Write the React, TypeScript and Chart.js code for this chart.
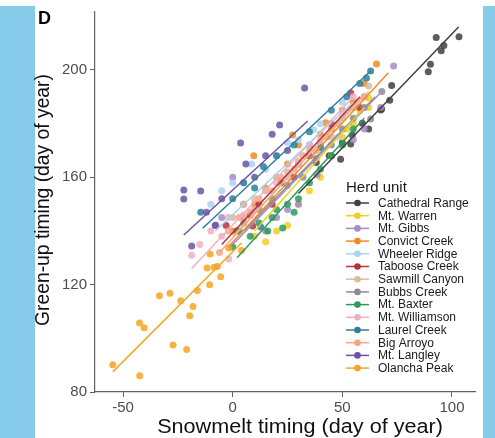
import React, { useEffect, useRef } from "react";
import { Chart, registerables } from "chart.js";

Chart.register(...registerables);

const herdNames = [
  "Cathedral Range", "Mt. Warren", "Mt. Gibbs", "Convict Creek", "Wheeler Ridge",
  "Taboose Creek", "Sawmill Canyon", "Bubbs Creek", "Mt. Baxter", "Mt. Williamson",
  "Laurel Creek", "Big Arroyo", "Mt. Langley", "Olancha Peak",
];

const herdColors = [
  "#3f3f3f", "#f2cf1d", "#a58bc8", "#f28a24", "#a9d3ef",
  "#b8323e", "#d9bc9c", "#8c8c8c", "#2e9a5a", "#f2afc4",
  "#2f7f9a", "#f4a582", "#6b55a3", "#f5a623",
];

type P = [number, number];

const cathedralRange: P[] = [
  [92.8, 212.1], [96.3, 209.1], [95.1, 207.2], [103.2, 212.4], [90.2, 202.1], [89.2, 199.3],
  [72.5, 194.2], [71.6, 188.7], [67.9, 185.5], [59.1, 180.1], [54.5, 175.8], [53.8, 172.4],
  [50.0, 172.9], [49.2, 166.7], [38.1, 165.5], [67.5, 185.1], [62, 178], [44, 168],
];
const mtWarren: P[] = [
  [10, 138], [15, 136], [20, 140], [25, 142], [30, 150], [35, 155], [40, 160],
  [45, 168], [50, 175], [55, 180], [58, 185], [62, 189.6], [62, 186], [52, 178],
];
const mtGibbs: P[] = [
  [73.4, 201.5], [60, 178], [55, 174], [67.5, 186], [45, 168], [38.5, 161], [30, 150],
  [25, 148], [20, 145], [10, 148], [5, 150], [-5, 145], [0, 160], [-7.7, 142.2], [15, 140], [35, 172],
];
const convictCreek: P[] = [
  [65.6, 202.2], [60, 195], [55, 188], [50, 185], [45, 178], [42.4, 180.3], [30, 172],
  [27.3, 175.8], [20, 160], [15, 156], [10, 150], [9.6, 168], [5, 145], [0, 140], [25, 165], [40, 176],
];
const wheelerRidge: P[] = [
  [-10, 150], [-5, 155], [0, 158], [5, 158], [8.7, 165], [15, 163], [20, 168],
  [25, 173], [30, 174], [36.9, 177.7], [40, 180], [50, 188], [55, 186], [48, 175],
];
const tabooseCreek: P[] = [
  [-3, 142], [2, 140], [8, 146], [12, 150], [18, 150], [22, 158], [28, 160],
  [30, 165], [35, 168], [40, 172], [45, 180], [53.8, 191.4], [58, 186], [9.1, 141.9],
];
const sawmillCanyon: P[] = [
  [0, 145], [5, 150], [10, 152], [15, 155], [20, 160], [25, 162], [30, 166],
  [35, 170], [40, 172], [45, 175], [50, 182], [55, 186], [60, 190], [62, 194],
];
const bubbsCreek: P[] = [
  [5, 143], [12, 148], [18, 152], [25, 157], [32, 160], [38, 167], [45, 172],
  [50, 178], [55, 182], [60, 186], [62.9, 181.7], [68, 192],
];
const mtBaxter: P[] = [
  [0, 134], [3, 140], [8, 138], [12, 143], [16, 140], [22.8, 141.1], [18, 145], [20, 148],
  [25, 150], [28, 147], [30, 152], [35, 158], [40, 163], [45, 168], [50, 172], [55, 178],
];
const mtWilliamson: P[] = [
  [-18.7, 131], [-15, 135], [-10, 140], [-5, 138], [-2, 145], [-1.8, 129.6], [5, 146], [10, 148],
  [15, 155], [20, 158], [25, 160], [30, 165], [35, 172], [40, 174], [50, 184], [55, 190],
];
const laurelCreek: P[] = [
  [-14.6, 147], [0, 152], [5, 158], [10, 156], [14, 164], [20, 168], [28, 172], [35, 177],
  [45, 185], [52, 190], [58, 195], [62.9, 199.6], [61, 197], [40, 171], [12.8, 141.5],
];
const bigArroyo: P[] = [
  [-6, 132], [-2, 140], [3, 145], [8, 147], [12, 152], [18, 155], [22, 160],
  [28, 163], [32, 168], [38, 170], [43, 175], [48, 180], [55, 186], [60, 190],
];
const mtLangley: P[] = [
  [-22.3, 155.3], [-22.3, 151.9], [-14.6, 154.9], [-12, 147], [-5, 152], [3.6, 172.8], [6, 165],
  [10, 160], [15, 168], [21.4, 179.5], [18, 176], [32.8, 193.3], [25, 170], [-8, 142], [-18.7, 134.4],
];
const olanchaPeak: P[] = [
  [-54.7, 90.2], [-42.4, 86.1], [-42.5, 105.7], [-40.4, 103.9], [-33.4, 115.9], [-28.6, 116.8],
  [-27.2, 97.5], [-23.7, 114.0], [-21.0, 95.8], [-19.6, 108.4], [-18.1, 111.9], [-16.1, 117.8],
  [-10.5, 120.0], [-11.7, 126.2], [-10.3, 131.4], [-8.5, 126.5], [-7.0, 126.8], [-5.5, 122.9],
  [-1.8, 133.7], [4.0, 132.7],
];

const herdPoints: P[][] = [
  cathedralRange, mtWarren, mtGibbs, convictCreek, wheelerRidge, tabooseCreek, sawmillCanyon,
  bubbsCreek, mtBaxter, mtWilliamson, laurelCreek, bigArroyo, mtLangley, olanchaPeak,
];

// fitted line end points per herd (same order as herdNames)
const lineStartX = [30, 10, 0, -2, -8, -5, 0, 5, 2, -18.7, -13.7, -6, -22.3, -54.7];
const lineStartY = [154, 140, 135, 134, 140, 135, 138, 140, 130, 126, 141, 132, 138.5, 87.5];
const lineEndX = [103, 60, 68, 71, 55, 58, 62, 65, 60, 55, 62.9, 60, 34.2, 4];
const lineEndY = [216, 186, 192, 199, 188, 190, 192, 190, 182, 190, 199.6, 191, 181, 135.5];

const xTicks = [-50, 0, 50, 100];
const yTicks = [80, 120, 160, 200];

const xTitle = "Snowmelt timing (day of year)";
const yTitle = "Green-up timing (day of year)";

const FONT = "'Liberation Sans', Arial, Helvetica, sans-serif";

const annotationPlugin = {
  id: "herdLegend",
  afterDraw(chart: any) {
    const ctx = chart.ctx;
    ctx.save();
    ctx.fillStyle = "#000";
    ctx.font = `bold 18px ${FONT}`;
    ctx.textBaseline = "alphabetic";
    ctx.textAlign = "left";
    ctx.fillText("D", 38, 24);

    // axis titles
    ctx.fillStyle = "#111";
    ctx.textAlign = "center";
    ctx.textBaseline = "middle";
    ctx.save();
    ctx.translate(300, 427);
    ctx.scale(1.08, 1);
    ctx.font = `20px ${FONT}`;
    ctx.fillText(xTitle, 0, 0);
    ctx.restore();
    ctx.save();
    ctx.translate(44, 200);
    ctx.rotate(-Math.PI / 2);
    ctx.font = `19.3px ${FONT}`;
    ctx.fillText(yTitle, 0, 0);
    ctx.restore();

    // legend
    ctx.textAlign = "left";
    ctx.fillStyle = "#1a1a1a";
    ctx.font = `15px ${FONT}`;
    ctx.textBaseline = "middle";
    ctx.fillText("Herd unit", 346, 188);
    ctx.font = `12px ${FONT}`;
    herdNames.forEach((name, i) => {
      const y = 203 + i * 12.7;
      ctx.strokeStyle = herdColors[i];
      ctx.lineWidth = 1.5;
      ctx.beginPath();
      ctx.moveTo(346, y);
      ctx.lineTo(369, y);
      ctx.stroke();
      ctx.fillStyle = herdColors[i];
      ctx.beginPath();
      ctx.arc(357.5, y, 3.3, 0, Math.PI * 2);
      ctx.fill();
      ctx.fillStyle = "#1a1a1a";
      ctx.fillText(name, 378, y + 0.5);
    });
    ctx.restore();
  },
};

export default function App() {
  const ref = useRef<HTMLCanvasElement>(null);
  useEffect(() => {
    if (!ref.current) return;
    const lineSets = herdNames.map((name, i) => ({
      type: "line" as const,
      label: name + " fit",
      data: [
        { x: lineStartX[i], y: lineStartY[i] },
        { x: lineEndX[i], y: lineEndY[i] },
      ],
      borderColor: herdColors[i],
      borderWidth: 1.5,
      pointRadius: 0,
      showLine: true,
      fill: false,
      order: 0,
    }));
    const pointSets = herdNames.map((name, i) => ({
      type: "scatter" as const,
      label: name,
      data: herdPoints[i].map(([x, y]) => ({ x, y })),
      backgroundColor: herdColors[i] + "d9",
      borderWidth: 0,
      pointRadius: 3.5,
      order: 100 - i,
    }));
    const chart = new Chart(ref.current, {
      type: "scatter",
      data: { datasets: [...lineSets, ...pointSets] as any },
      options: {
        animation: false,
        responsive: false,
        events: [],
        layout: { padding: { left: 35, right: 20, top: 12, bottom: 0 } },
        plugins: { legend: { display: false }, tooltip: { enabled: false } },
        scales: {
          x: {
            type: "linear",
            min: -62.8,
            max: 110.5,
            afterBuildTicks: (s: any) => { s.ticks = xTicks.map((v) => ({ value: v })); },
            afterFit: (s: any) => { s.height = 46; },
            grid: { drawOnChartArea: false, drawTicks: true, tickLength: 5, color: "#606060", lineWidth: 1 },
            border: { display: true, color: "#606060", width: 1.2 },
            ticks: { font: { size: 15, family: FONT }, color: "#4d4d4d", padding: 2, maxRotation: 0 },
            title: { display: false },
          },
          y: {
            type: "linear",
            min: 80,
            max: 221.6,
            afterBuildTicks: (s: any) => { s.ticks = yTicks.map((v) => ({ value: v })); },
            afterFit: (s: any) => { s.width = 60; },
            grid: { drawOnChartArea: false, drawTicks: true, tickLength: 5, color: "#606060", lineWidth: 1 },
            border: { display: true, color: "#606060", width: 1.2 },
            ticks: { font: { size: 15, family: FONT }, color: "#4d4d4d", padding: 3 },
            title: { display: false },
          },
        },
      },
      plugins: [annotationPlugin],
    });
    return () => chart.destroy();
  }, []);

  return (
    <div style={{ position: "absolute", left: 0, top: 0, width: 495, height: 438, background: "#fff", overflow: "hidden" }}>
      <div style={{ position: "absolute", left: 0, top: 6, width: 35, height: 432, background: "#86cbea" }} />
      <div style={{ position: "absolute", left: 483, top: 6, width: 12, height: 432, background: "#86cbea" }} />
      <canvas ref={ref} width={495} height={438} style={{ position: "absolute", left: 0, top: 0, width: 495, height: 438 }} />
    </div>
  );
}
